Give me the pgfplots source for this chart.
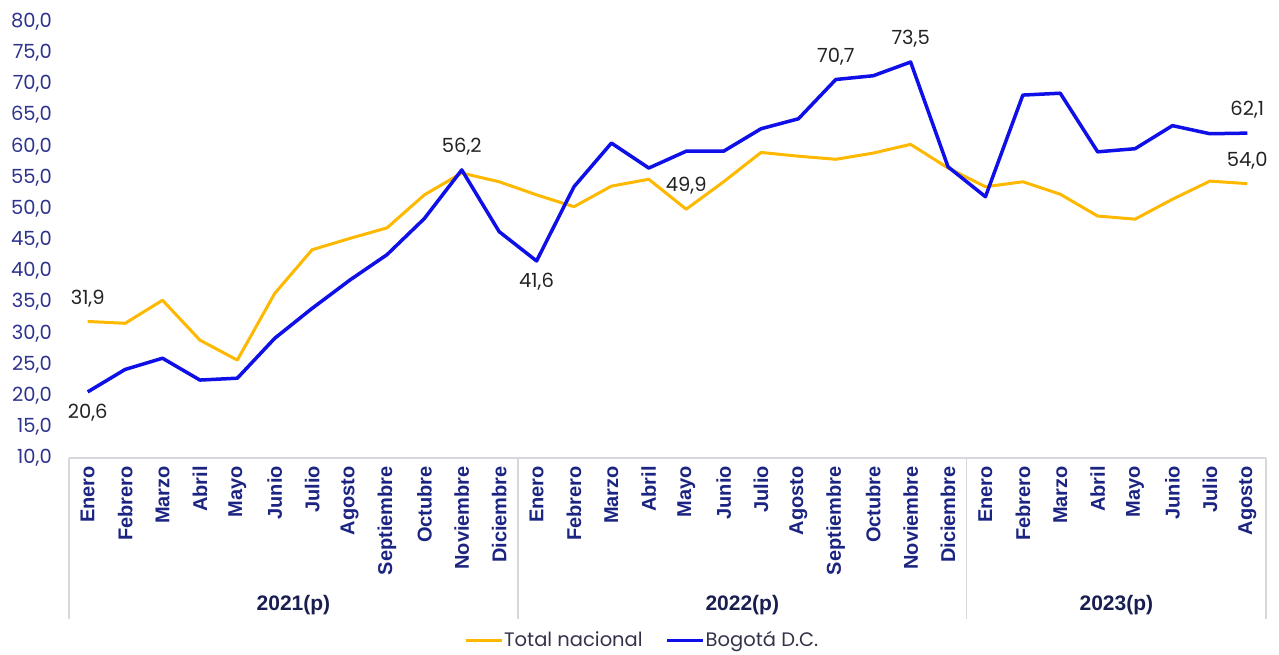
\documentclass[border=0pt]{standalone}
\usepackage{fontspec}
\setmainfont{Poppins}
\newfontfamily\arialfont{Liberation Sans}
\usepackage{pgfplots}
\usepackage{pgfplotstable}
\pgfplotsset{compat=1.18}
\definecolor{cyellow}{RGB}{255,184,0}
\definecolor{cblue}{RGB}{15,15,232}
\definecolor{ytickc}{RGB}{45,50,140}
\definecolor{xtickc}{RGB}{28,36,130}
\definecolor{yearc}{RGB}{25,30,80}
\definecolor{gridc}{RGB}{215,215,222}
\definecolor{lblc}{RGB}{35,35,35}
\definecolor{legc}{RGB}{50,50,75}

\pgfplotstableread{
x tot bog
0 31.9 20.6
1 31.6 24.2
2 35.3 26.0
3 28.9 22.5
4 25.7 22.8
5 36.4 29.2
6 43.4 34.0
7 45.2 38.5
8 46.9 42.6
9 52.2 48.4
10 55.7 56.2
11 54.3 46.3
12 52.2 41.6
13 50.3 53.5
14 53.6 60.5
15 54.7 56.5
16 49.9 59.2
17 54.3 59.2
18 59.0 62.8
19 58.4 64.4
20 57.9 70.7
21 58.9 71.3
22 60.3 73.5
23 56.5 56.7
24 53.5 51.9
25 54.3 68.2
26 52.3 68.5
27 48.8 59.1
28 48.3 59.6
29 51.5 63.3
30 54.4 62.0
31 54.0 62.1
}\datatable

\begin{document}
\begin{tikzpicture}
\begin{axis}[
  at={(69pt,196pt)}, anchor=south west,
  scale only axis, width=1197pt, height=436.5pt,
  xmin=-0.5, xmax=31.5, ymin=10, ymax=80,
  clip=false,
  axis line style={draw=none},
  major tick length=0pt,
  /pgf/number format/assume math mode=true,
  ytick={10,15,...,80},
  yticklabel style={font=\fontsize{19.5}{22}\selectfont, text=ytickc, anchor=east, inner sep=0pt, xshift=-17pt,
    /pgf/number format/fixed, /pgf/number format/fixed zerofill,
    /pgf/number format/precision=1, /pgf/number format/use comma},
  xtick={0,...,31},
  xticklabels={Enero,Febrero,Marzo,Abril,Mayo,Junio,Julio,Agosto,Septiembre,Octubre,Noviembre,Diciembre,
               Enero,Febrero,Marzo,Abril,Mayo,Junio,Julio,Agosto,Septiembre,Octubre,Noviembre,Diciembre,
               Enero,Febrero,Marzo,Abril,Mayo,Junio,Julio,Agosto},
  xticklabel style={font=\arialfont\bfseries\fontsize{20}{23}\selectfont, text=xtickc, rotate=90, anchor=east, inner sep=0pt, xshift=-8pt},
  legend columns=2,
  legend style={at={(0.4785,-0.417)}, anchor=center, draw=none, fill=none,
    font=\fontsize{19.5}{22}\selectfont, text=legc,
    nodes={inner sep=1pt},
    /tikz/every odd column/.append style={column sep=0pt},
    /tikz/every even column/.append style={column sep=22pt}},
  legend image code/.code={\draw[#1, line width=3pt] (0pt,0pt) -- (36pt,0pt);},
]
% table grid
\draw[gridc, line width=1.3pt] (axis cs:-0.5,10) -- (axis cs:31.5,10);
\pgfplotsinvokeforeach{-0.5,11.5,23.5,31.5}{
  \draw[gridc, line width=1.3pt] (axis cs:#1,10) -- ([yshift=-161pt]axis cs:#1,10);
}
\node[font=\arialfont\bfseries\fontsize{21}{24}\selectfont, text=yearc] at ([yshift=-147pt]axis cs:5.5,10) {2021(p)};
\node[font=\arialfont\bfseries\fontsize{21}{24}\selectfont, text=yearc] at ([yshift=-147pt]axis cs:17.5,10) {2022(p)};
\node[font=\arialfont\bfseries\fontsize{21}{24}\selectfont, text=yearc] at ([yshift=-147pt]axis cs:27.5,10) {2023(p)};

\addplot[cyellow, line width=3pt, line join=round, mark=none] table[x=x, y=tot] {\datatable};
\addlegendentry{Total nacional}
\addplot[cblue, line width=3.5pt, line join=round, mark=none] table[x=x, y=bog] {\datatable};
\addlegendentry{Bogotá D.C.}

% data labels above
\addplot[draw=none, mark=none, forget plot, point meta=y,
  nodes near coords={\pgfmathprintnumber[fixed,fixed zerofill,precision=1,use comma]{\pgfplotspointmeta}},
  nodes near coords style={font=\fontsize{19.5}{22}\selectfont, text=lblc, anchor=center, yshift=23pt}]
  coordinates {(0,31.9) (16,49.9) (31,54.0) (10,56.2) (20,70.7) (22,73.5) (31,62.1)};
% data labels below
\addplot[draw=none, mark=none, forget plot, point meta=y,
  nodes near coords={\pgfmathprintnumber[fixed,fixed zerofill,precision=1,use comma]{\pgfplotspointmeta}},
  nodes near coords style={font=\fontsize{19.5}{22}\selectfont, text=lblc, anchor=center, yshift=-21pt}]
  coordinates {(0,20.6) (12,41.6)};
\end{axis}
\pgfresetboundingbox
\path[use as bounding box] (0pt,0pt) rectangle (1279pt,654pt);
\end{tikzpicture}
\end{document}
